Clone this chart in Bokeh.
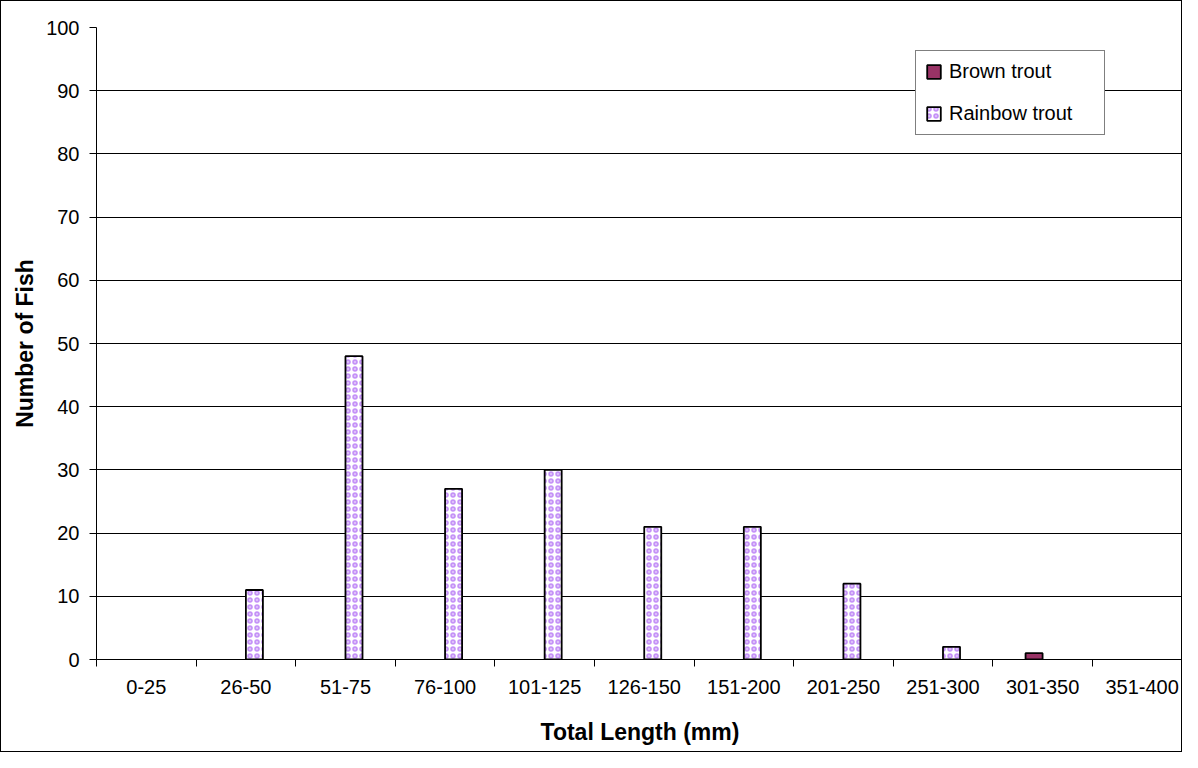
import numpy as np
from bokeh.plotting import figure
from bokeh.models import (Range1d, FixedTicker, ColumnDataSource, Legend, LegendItem,
                          CDSView, BooleanFilter)
from bokeh.transform import dodge
from bokeh.embed import file_html
from bokeh.resources import INLINE

categories = ["0-25", "26-50", "51-75", "76-100", "101-125", "126-150",
              "151-200", "201-250", "251-300", "301-350", "351-400"]
brown_trout = [0, 0, 0, 0, 0, 0, 0, 0, 0, 1, 0]
rainbow_trout = [0, 11, 48, 27, 30, 21, 21, 12, 2, 0, 0]
y_ticks = list(range(0, 101, 10))

FONT = "Liberation Sans"
n = len(categories)
centers = np.arange(n) + 0.5
bar_w = 0.171

src = ColumnDataSource(dict(x=centers, brown=brown_trout, rainbow=rainbow_trout, cat=categories))

p = figure(width=1182, height=752, output_backend="svg", toolbar_location=None,
           x_range=Range1d(0, 10.915), y_range=Range1d(0, 100),
           min_border_left=95, min_border_right=0, min_border_top=26, min_border_bottom=94)
p.styles = {"border": "1px solid black"}
p.outline_line_color = None
p.background_fill_color = "white"
p.border_fill_color = "white"

brown_view = CDSView(filter=BooleanFilter([v > 0 for v in brown_trout]))
rain_view = CDSView(filter=BooleanFilter([v > 0 for v in rainbow_trout]))

r_brown = p.vbar(x=dodge("x", -bar_w / 2), top="brown", width=bar_w, source=src, view=brown_view,
                 fill_color="#993366", line_color="black", line_width=1.8)
r_rain = p.vbar(x=dodge("x", bar_w / 2), top="rainbow", width=bar_w, source=src, view=rain_view,
                fill_color="white", line_color="black", line_width=1.8,
                hatch_pattern="ring", hatch_color="#c593f7", hatch_scale=7, hatch_weight=2)

# axes
p.xgrid.visible = False
p.ygrid.grid_line_color = "black"
p.ygrid.grid_line_width = 1

p.yaxis.ticker = FixedTicker(ticks=y_ticks)
p.yaxis.minor_tick_line_color = None
p.yaxis.major_tick_out = 7
p.yaxis.major_tick_in = 0
p.yaxis.major_tick_line_color = "black"
p.yaxis.axis_line_color = "black"
p.yaxis.major_label_standoff = 10
p.yaxis.major_label_text_font = FONT
p.yaxis.major_label_text_font_size = "20px"
p.yaxis.major_label_text_color = "black"
p.yaxis.axis_label = "Number of Fish"
p.yaxis.axis_label_text_font = FONT
p.yaxis.axis_label_text_font_size = "23px"
p.yaxis.axis_label_text_font_style = "bold"
p.yaxis.axis_label_text_color = "black"
p.yaxis.axis_label_standoff = 5

p.xaxis.ticker = FixedTicker(ticks=list(centers), minor_ticks=list(range(n + 1)))
p.xaxis.major_label_overrides = {float(c): lab for c, lab in zip(centers, categories)}
p.xaxis.major_tick_line_color = None
p.xaxis.major_tick_out = 0
p.xaxis.major_tick_in = 0
p.xaxis.minor_tick_line_color = "black"
p.xaxis.minor_tick_out = 7
p.xaxis.minor_tick_in = 0
p.xaxis.axis_line_color = "black"
p.xaxis.major_label_standoff = 13
p.xaxis.major_label_text_font = FONT
p.xaxis.major_label_text_font_size = "20px"
p.xaxis.major_label_text_color = "black"
p.xaxis.axis_label = "Total Length (mm)"
p.xaxis.axis_label_text_font = FONT
p.xaxis.axis_label_text_font_size = "23px"
p.xaxis.axis_label_text_font_style = "bold"
p.xaxis.axis_label_text_color = "black"
p.xaxis.axis_label_standoff = 22

legend = Legend(items=[LegendItem(label="Brown trout", renderers=[r_brown]),
                       LegendItem(label="Rainbow trout", renderers=[r_rain])],
                location=(819, 524), orientation="vertical")
legend.label_text_font = FONT
legend.label_text_font_size = "20px"
legend.label_text_color = "black"
legend.glyph_width = 17
legend.glyph_height = 17
legend.label_height = 20
legend.label_width = 146
legend.label_standoff = 7
legend.spacing = 19
legend.padding = 9
legend.margin = 0
legend.border_line_color = "black"
legend.border_line_width = 1
legend.background_fill_color = "white"
legend.background_fill_alpha = 1
p.add_layout(legend)

open("out.html", "w").write(file_html(p, INLINE))
